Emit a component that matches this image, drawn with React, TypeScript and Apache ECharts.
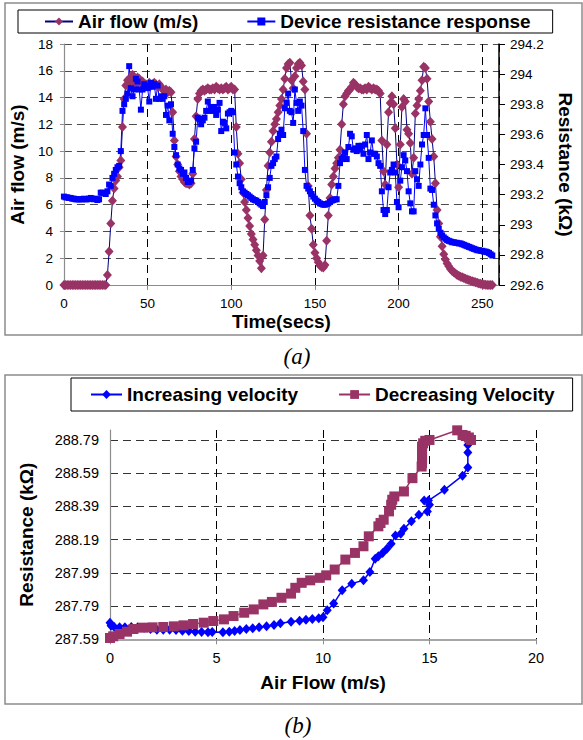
import React, { useEffect, useRef } from "react";
import * as echarts from "echarts";

// ---------- (a) time series, one sample per second ----------
const TIME_STEP = 1; // seconds between samples

const AIR_FLOW: number[] = [
  0, 0, 0, 0, 0, 0, 0, 0, 0, 0,
  0, 0, 0, 0, 0, 0, 0, 0, 0, 0,
  0, 0, 0, 0, 0, 0, 0.75, 2.5, 4.6, 6.3,
  7.2, 7.8, 8.1, 8.8, 9.3, 11.8, 13.9, 14.9, 15.3, 15.1,
  15.5, 15.7, 15.3, 15.0, 15.5, 15.4, 15.1, 15.2, 14.9, 15.0,
  14.9, 15.1, 14.9, 15.0, 15.1, 15.0, 14.8, 15.0, 14.8, 14.6,
  14.5, 14.6, 14.4, 14.5, 14.4, 12.9, 10.8, 9.6, 9.0, 8.5,
  8.1, 7.9, 7.7, 7.6, 7.6, 7.5, 7.6, 8.3, 10.9, 12.6,
  13.9, 14.3, 14.5, 14.6, 14.5, 14.6, 14.7, 14.6, 14.6, 14.7,
  14.6, 14.8, 14.7, 14.6, 14.7, 14.6, 14.7, 14.8, 14.6, 14.7,
  14.8, 14.6, 14.6, 11.8, 9.8, 9.1, 7.9, 6.9, 6.2, 5.6,
  5.0, 4.4, 3.8, 3.4, 3.0, 2.6, 2.2, 1.8, 1.25, 2.2,
  4.9, 7.1, 8.9, 9.9, 10.7, 11.5, 12.0, 12.4, 12.9, 13.4,
  13.9, 14.6, 15.4, 16.2, 16.5, 16.6, 15.3, 14.7, 15.6, 16.2,
  16.5, 16.6, 16.4, 15.2, 14.6, 11.3, 7.4, 5.2, 4.2, 3.0,
  2.4, 2.0, 1.7, 1.45, 1.35, 1.3, 1.5, 3.3, 5.2, 6.5,
  7.5, 8.1, 8.7, 9.1, 9.5, 10.1, 12.0, 13.5, 14.1, 14.3,
  14.5, 14.6, 14.8, 15.1, 15.0, 14.8, 14.7, 14.7, 14.6, 14.6,
  14.7, 14.6, 14.8, 14.7, 14.6, 14.7, 14.6, 14.6, 14.5, 14.3,
  10.8, 8.5, 7.5, 10.5, 12.9, 13.6, 14.1, 13.5, 11.7, 9.0,
  7.3, 10.5, 13.3, 13.9, 13.7, 11.6, 11.3, 10.6, 8.3, 9.5,
  12.8, 13.4, 13.9, 14.5, 15.3, 16.3, 16.2, 15.4, 13.7, 12.2,
  10.9, 9.6, 7.6, 5.6, 4.6, 3.6, 2.9, 2.3, 1.9, 1.6,
  1.4, 1.2, 1.05, 0.95, 0.85, 0.75, 0.7, 0.62, 0.57, 0.52,
  0.47, 0.42, 0.37, 0.32, 0.28, 0.24, 0.2, 0.16, 0.12, 0.09,
  0.06, 0.04, 0.02, 0, 0, 0, 0,
];

const RESISTANCE: number[] = [
  293.187, 293.182, 293.182, 293.178, 293.178, 293.173, 293.173, 293.169, 293.169, 293.169,
  293.169, 293.169, 293.173, 293.169, 293.169, 293.173, 293.178, 293.173, 293.169, 293.173,
  293.164, 293.169, 293.213, 293.213, 293.209, 293.204, 293.222, 293.267, 293.258, 293.311,
  293.338, 293.364, 293.382, 293.391, 293.489, 293.756, 293.8, 293.836, 293.871, 294.053,
  293.907, 293.853, 293.898, 293.969, 293.951, 293.898, 293.764, 293.898, 293.933, 293.924,
  293.907, 293.818, 293.942, 293.916, 293.933, 293.836, 293.924, 293.836, 293.853, 293.836,
  293.853, 293.729, 293.791, 293.693, 293.8, 293.604, 293.516, 293.462, 293.4, 293.373,
  293.364, 293.338, 293.347, 293.311, 293.284, 293.284, 293.293, 293.364, 293.507, 293.551,
  293.711, 293.702, 293.667, 293.693, 293.711, 293.756, 293.818, 293.756, 293.782, 293.756,
  293.782, 293.729, 293.764, 293.809, 293.622, 293.684, 293.676, 293.64, 293.738, 293.747,
  293.756, 293.747, 293.48, 293.4, 293.32, 293.276, 293.249, 293.222, 293.213, 293.204,
  293.196, 293.187, 293.178, 293.169, 293.164, 293.16, 293.151, 293.142, 293.133, 293.124,
  293.151, 293.196, 293.249, 293.311, 293.391, 293.409, 293.436, 293.453, 293.569, 293.604,
  293.631, 293.596, 293.773, 293.809, 293.871, 293.756, 293.747, 293.676, 293.898, 293.809,
  293.756, 293.818, 293.791, 293.622, 293.364, 293.258, 293.24, 293.222, 293.204, 293.187,
  293.173, 293.16, 293.151, 293.142, 293.138, 293.133, 293.133, 293.138, 293.142, 293.151,
  293.16, 293.164, 293.169, 293.169, 293.258, 293.409, 293.436, 293.453, 293.48, 293.436,
  293.516, 293.604, 293.587, 293.498, 293.507, 293.489, 293.524, 293.498, 293.524, 293.471,
  293.533, 293.596, 293.436, 293.48, 293.56, 293.471, 293.471, 293.453, 293.409, 293.391,
  293.222, 293.098, 293.071, 293.098, 293.249, 293.347, 293.364, 293.4, 293.347, 293.151,
  293.116, 293.293, 293.382, 293.462, 293.427, 293.356, 293.222, 293.142, 293.089, 293.089,
  293.356, 293.302, 293.258, 293.4, 293.533, 293.596, 293.773, 293.596, 293.444, 293.24,
  293.231, 293.133, 293.062, 293.009, 292.973, 292.947, 292.929, 292.916, 292.907, 292.898,
  292.893, 292.889, 292.884, 292.884, 292.88, 292.88, 292.876, 292.876, 292.871, 292.867,
  292.862, 292.858, 292.853, 292.849, 292.844, 292.84, 292.836, 292.831, 292.831, 292.827,
  292.827, 292.822, 292.822, 292.818, 292.813, 292.804, 292.796,
];

// ---------- (b) resistance vs air flow ----------
const INC_FLOW: number[] = [
  0, 0.05, 0.2, 0.45, 0.7, 1.0, 1.3, 1.6, 1.9, 2.2,
  2.5, 2.8, 3.1, 3.4, 3.7, 4.0, 4.3, 4.6, 4.8, 5.3,
  5.6, 5.85, 6.1, 6.4, 6.7, 7.0, 7.35, 7.7, 8.0, 8.5,
  8.9, 9.2, 9.5, 9.8, 10.0, 10.2, 10.5, 10.9, 11.35, 11.9,
  12.2, 12.45, 12.6, 12.8, 13.0, 13.2, 13.4, 13.65, 13.8, 14.15,
  14.5, 14.9, 15.0, 14.75, 14.95, 15.7, 16.55, 16.8, 16.8, 16.8,
];
const INC_RES: number[] = [
  287.69, 287.672, 287.664, 287.662, 287.662, 287.664, 287.662, 287.66, 287.652, 287.648,
  287.648, 287.648, 287.646, 287.642, 287.64, 287.636, 287.634, 287.632, 287.634, 287.632,
  287.636, 287.64, 287.646, 287.652, 287.656, 287.662, 287.668, 287.676, 287.686, 287.696,
  287.702, 287.708, 287.712, 287.716, 287.722, 287.765, 287.805, 287.885, 287.925, 287.945,
  287.995, 288.075, 288.09, 288.11, 288.135, 288.165, 288.215, 288.225, 288.255, 288.3,
  288.34, 288.36, 288.4, 288.425, 288.425, 288.49, 288.575, 288.625, 288.715, 288.76,
];
const DEC_FLOW: number[] = [
  16.95, 16.85, 16.7, 16.55, 16.3, 15.0, 14.8, 14.7, 14.65, 14.65,
  14.65, 14.65, 14.65, 14.65, 14.63, 14.2, 13.8, 13.35, 13.25, 13.2,
  13.1, 12.85, 12.7, 12.6, 12.15, 11.9, 11.5, 11.05, 10.55, 10.15,
  9.85, 9.4, 9.0, 8.7, 8.5, 8.05, 7.6, 7.2, 6.75, 6.3,
  5.8, 5.35, 4.85, 4.4, 3.9, 3.45, 3.0, 2.5, 2.0, 1.55,
  1.1, 0.8, 0.45, 0.15, 0,
];
const DEC_RES: number[] = [
  288.79, 288.805, 288.815, 288.82, 288.848, 288.79, 288.785, 288.77, 288.75, 288.73,
  288.71, 288.69, 288.67, 288.65, 288.63, 288.56, 288.48, 288.45, 288.43, 288.4,
  288.36, 288.31, 288.29, 288.27, 288.21, 288.15, 288.11, 288.07, 288.01, 287.975,
  287.96, 287.945, 287.93, 287.9, 287.865, 287.84, 287.815, 287.8, 287.77, 287.75,
  287.73, 287.71, 287.7, 287.69, 287.682, 287.674, 287.668, 287.664, 287.662, 287.66,
  287.652, 287.636, 287.622, 287.608, 287.598,
];

const FONT = "'Liberation Sans', Arial, Helvetica, sans-serif";
const SERIF = "'Liberation Serif', 'Times New Roman', serif";
const MAROON = "#993366";
const NAVY = "#000080";
const BLUE = "#0000FF";

const tickLabel = (size: number) => ({ color: "#000", fontSize: size, fontFamily: FONT });
const nameStyle = { color: "#000", fontSize: 19, fontWeight: "bold" as const, fontFamily: FONT };
const legendText = { color: "#000", fontSize: 19, fontWeight: "bold" as const, fontFamily: FONT, lineHeight: 21 };

function buildOption() {
  const airData = AIR_FLOW.map((v, i) => [i * TIME_STEP, v]);
  const resData = RESISTANCE.map((v, i) => [i * TIME_STEP, v]);
  const incData = INC_FLOW.map((x, i) => [x, INC_RES[i]]);
  const decData = DEC_FLOW.map((x, i) => [x, DEC_RES[i]]);

  return {
    animation: false,
    backgroundColor: "#ffffff",
    textStyle: { fontFamily: FONT },
    graphic: [
      {
        type: "rect",
        z: -10,
        shape: { x: 5, y: 3, width: 577, height: 332 },
        style: { fill: "none", stroke: "#8c8c8c", lineWidth: 1.5 },
      },
      {
        type: "rect",
        z: -10,
        shape: { x: 5, y: 375, width: 577, height: 329 },
        style: { fill: "none", stroke: "#8c8c8c", lineWidth: 1.5 },
      },
      {
        type: "text",
        x: 297,
        y: 356,
        style: {
          text: "(a)",
          fontSize: 23,
          fontStyle: "italic",
          fontFamily: SERIF,
          fill: "#000",
          align: "center",
          verticalAlign: "middle",
        },
      },
      {
        type: "text",
        x: 298,
        y: 725,
        style: {
          text: "(b)",
          fontSize: 23,
          fontStyle: "italic",
          fontFamily: SERIF,
          fill: "#000",
          align: "center",
          verticalAlign: "middle",
        },
      },
    ],
    legend: [
      {
        data: ["Air flow (m/s)", "Device resistance response"],
        left: 18,
        top: 10,
        orient: "horizontal",
        borderColor: "#000",
        borderWidth: 1,
        padding: [1, 22, 1, 26],
        itemGap: 48,
        itemWidth: 28,
        itemHeight: 10,
        selectedMode: false,
        textStyle: legendText,
      },
      {
        data: ["Increasing velocity", "Decreasing Velocity"],
        left: 71,
        top: 378,
        orient: "horizontal",
        borderColor: "#000",
        borderWidth: 1,
        padding: [6, 18, 6, 19],
        itemGap: 40,
        itemWidth: 31,
        itemHeight: 11,
        selectedMode: false,
        textStyle: legendText,
      },
    ],
    grid: [
      { left: 63, top: 44, width: 442.5, height: 241 },
      { left: 110, top: 430, width: 426, height: 209.3 },
    ],
    xAxis: [
      {
        gridIndex: 0,
        type: "value",
        min: 0,
        max: 260,
        interval: 50,
        axisLine: { show: true, lineStyle: { color: "#8c8c8c", width: 1.2 } },
        axisTick: { show: true, length: 5, lineStyle: { color: "#8c8c8c" } },
        axisLabel: { ...tickLabel(13.5), margin: 11, showMaxLabel: false },
        splitLine: { show: true, lineStyle: { type: [8, 5], color: "#000", width: 1 } },
        name: "Time(secs)",
        nameLocation: "middle",
        nameGap: 27,
        nameTextStyle: nameStyle,
      },
      {
        gridIndex: 1,
        type: "value",
        min: 0,
        max: 20,
        interval: 5,
        axisLine: { show: true, lineStyle: { color: "#a6a6a6", width: 2 } },
        axisTick: { show: true, length: 5, lineStyle: { color: "#8c8c8c" } },
        axisLabel: { ...tickLabel(14.5), margin: 11 },
        splitLine: { show: true, lineStyle: { type: [8, 5], color: "#000", width: 1 } },
        name: "Air Flow (m/s)",
        nameLocation: "middle",
        nameGap: 34,
        nameTextStyle: nameStyle,
      },
    ],
    yAxis: [
      {
        gridIndex: 0,
        type: "value",
        position: "left",
        min: 0,
        max: 18,
        interval: 2,
        axisLine: { show: true, lineStyle: { color: "#8c8c8c", width: 1.2 } },
        axisTick: { show: true, length: 4, lineStyle: { color: "#8c8c8c" } },
        axisLabel: { ...tickLabel(13.5), margin: 11 },
        splitLine: { show: true, lineStyle: { type: [8, 5], color: "#4d4d4d", width: 1 } },
        name: "Air flow (m/s)",
        nameLocation: "middle",
        nameGap: 33,
        nameRotate: 90,
        nameTextStyle: nameStyle,
      },
      {
        gridIndex: 0,
        type: "value",
        position: "right",
        min: 292.6,
        max: 294.2,
        interval: 0.2,
        axisLine: { show: true, lineStyle: { color: "#000", width: 1.5 } },
        axisTick: { show: true, length: 6, lineStyle: { color: "#000" } },
        axisLabel: { ...tickLabel(13.5), margin: 11 },
        splitLine: { show: false },
        name: "Resistance (kΩ)",
        nameLocation: "middle",
        nameGap: 57,
        nameRotate: -90,
        nameTextStyle: nameStyle,
      },
      {
        gridIndex: 1,
        type: "value",
        position: "left",
        min: 287.59,
        max: 288.85,
        interval: 0.2,
        axisLine: { show: true, lineStyle: { color: "#8c8c8c", width: 1.2 } },
        axisTick: { show: false },
        axisLabel: {
          ...tickLabel(14.5),
          margin: 11,
          showMaxLabel: false,
          formatter: (v: number) => v.toFixed(2),
        },
        splitLine: {
          show: true,
          lineStyle: {
            type: [8, 5],
            width: 1,
            color: ["#333", "#333", "#333", "#333", "#333", "#333", "#333", "rgba(0,0,0,0)"],
          },
        },
        name: "Resistance (kΩ)",
        nameLocation: "middle",
        nameGap: 74,
        nameRotate: 90,
        nameTextStyle: nameStyle,
      },
    ],
    series: [
      {
        name: "Air flow (m/s)",
        type: "line",
        xAxisIndex: 0,
        yAxisIndex: 0,
        data: airData,
        symbol: "diamond",
        symbolSize: [9, 10],
        showAllSymbol: true,
        lineStyle: { color: NAVY, width: 1 },
        itemStyle: { color: MAROON },
        emphasis: { disabled: true },
      },
      {
        name: "Device resistance response",
        type: "line",
        xAxisIndex: 0,
        yAxisIndex: 1,
        data: resData,
        symbol: "rect",
        symbolSize: 6,
        showAllSymbol: true,
        lineStyle: { color: BLUE, width: 1 },
        itemStyle: { color: BLUE },
        emphasis: { disabled: true },
      },
      {
        name: "Increasing velocity",
        type: "line",
        xAxisIndex: 1,
        yAxisIndex: 2,
        data: incData,
        symbol: "diamond",
        symbolSize: [9, 10],
        showAllSymbol: true,
        lineStyle: { color: BLUE, width: 1.5 },
        itemStyle: { color: BLUE },
        emphasis: { disabled: true },
      },
      {
        name: "Decreasing Velocity",
        type: "line",
        xAxisIndex: 1,
        yAxisIndex: 2,
        data: decData,
        symbol: "rect",
        symbolSize: 10,
        showAllSymbol: true,
        lineStyle: { color: MAROON, width: 1.5 },
        itemStyle: { color: MAROON },
        emphasis: { disabled: true },
      },
    ],
  };
}

export default function App() {
  const ref = useRef<HTMLDivElement>(null);
  useEffect(() => {
    if (!ref.current) return;
    const chart = echarts.init(ref.current, null, { renderer: "svg" });
    chart.setOption(buildOption() as any);
    return () => chart.dispose();
  }, []);
  return (
    <div
      ref={ref}
      style={{ position: "absolute", left: 0, top: 0, width: 583, height: 740, background: "#fff" }}
    />
  );
}
